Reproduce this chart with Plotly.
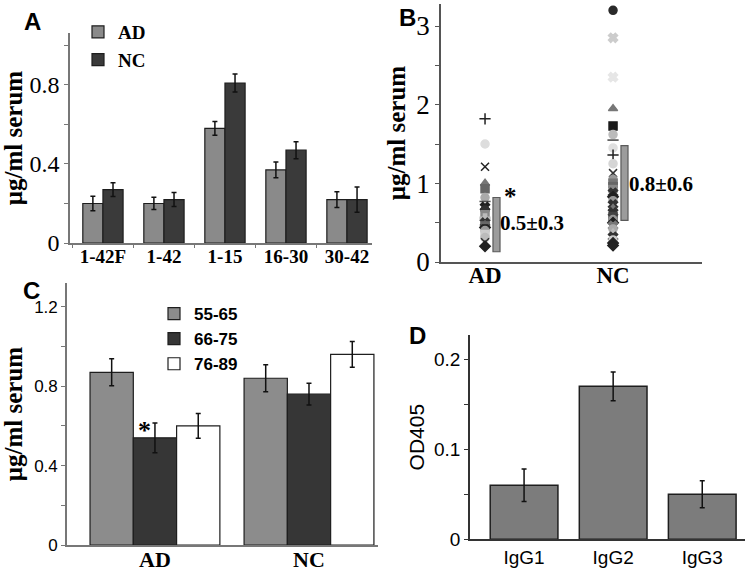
import plotly.graph_objects as go

W, H = 750, 574

# ---------------- Panel A data ----------------
a_categories = ["1-42F", "1-42", "1-15", "16-30", "30-42"]
a_ad = [0.20, 0.20, 0.58, 0.37, 0.22]
a_ad_err = [0.037, 0.031, 0.035, 0.040, 0.040]
a_nc = [0.27, 0.22, 0.81, 0.47, 0.22]
a_nc_err = [0.035, 0.035, 0.046, 0.043, 0.064]

# ---------------- Panel B data ----------------
b_groups = ["AD", "NC"]
b_ad_vals = [1.82, 1.50, 1.21, 1.00, 0.93, 0.82, 0.77, 0.70, 0.66, 0.60, 0.55, 0.50,
             0.47, 0.44, 0.40, 0.35, 0.31, 0.25, 0.20]
b_ad_sym = ["cross-thin", "circle", "x-thin", "triangle-up", "square", "circle", "line-ew",
            "x", "circle", "square", "cross", "x", "triangle-up", "diamond", "circle",
            "square", "circle", "x-thin", "diamond"]
b_ad_col = ["#222222", "#dddddd", "#222222", "#777777", "#666666", "#aaaaaa", "#555555",
            "#222222", "#333333", "#888888", "#bbbbbb", "#333333", "#666666", "#222222",
            "#999999", "#cccccc", "#bbbbbb", "#333333", "#222222"]
b_nc_vals = [3.20, 2.85, 2.35, 1.95, 1.73, 1.62, 1.55, 1.45, 1.36, 1.25, 1.13, 1.05,
             1.00, 0.94, 0.88, 0.83, 0.78, 0.73, 0.68, 0.63, 0.58, 0.54, 0.50, 0.46,
             0.42, 0.37, 0.32, 0.28, 0.24, 0.21]
b_nc_sym = ["circle", "x", "x", "triangle-up", "square", "circle", "line-ew", "circle",
            "cross-thin", "circle", "x-thin", "circle", "square", "square", "x", "diamond",
            "circle", "x", "triangle-up", "x", "square", "circle", "diamond", "x",
            "circle", "triangle-up", "x", "circle", "diamond", "diamond"]
b_nc_col = ["#2a2a2a", "#cccccc", "#e6e6e6", "#777777", "#1a1a1a", "#bbbbbb", "#444444",
            "#e0e0e0", "#222222", "#d5d5d5", "#333333", "#999999", "#777777", "#888888",
            "#333333", "#222222", "#999999", "#333333", "#777777", "#333333", "#444444",
            "#999999", "#222222", "#777777", "#aaaaaa", "#bbbbbb", "#333333", "#cccccc",
            "#222222", "#222222"]
b_box_low = [0.13, 0.53]
b_box_high = [0.82, 1.48]
b_box_mid = [0.50, 1.00]
b_box_text = ["0.5±0.3", "0.8±0.6"]

# ---------------- Panel C data ----------------
c_groups = ["AD", "NC"]
c_series = ["55-65", "66-75", "76-89"]
c_vals = [[0.87, 0.84], [0.54, 0.76], [0.60, 0.96]]
c_errs = [[0.068, 0.068], [0.075, 0.055], [0.062, 0.065]]

# ---------------- Panel D data ----------------
d_categories = ["IgG1", "IgG2", "IgG3"]
d_vals = [0.060, 0.170, 0.050]
d_errs = [0.018, 0.016, 0.015]

SERIF = "Liberation Serif"
SANS = "Liberation Sans"
LIGHT = "#8a8a8a"
DARK = "#3a3a3a"
EDGE = "#1e1e1e"

fig = go.Figure()


def err(arr):
    return dict(type="data", array=arr, color="#111111", thickness=1.5, width=2.5)


# Panel A bars
fig.add_trace(go.Bar(x=a_categories, y=a_ad, name="AD", error_y=err(a_ad_err),
                     marker=dict(color=LIGHT, line=dict(color=EDGE, width=1.2)),
                     width=0.33, offset=-0.33, xaxis="x", yaxis="y", legend="legend"))
fig.add_trace(go.Bar(x=a_categories, y=a_nc, name="NC", error_y=err(a_nc_err),
                     marker=dict(color=DARK, line=dict(color=EDGE, width=1.2)),
                     width=0.33, offset=0.0, xaxis="x", yaxis="y", legend="legend"))

# Panel B scatter
fig.add_trace(go.Scatter(x=["AD"] * len(b_ad_vals), y=b_ad_vals, mode="markers",
                         marker=dict(symbol=b_ad_sym, color=b_ad_col, size=8,
                                     line=dict(color=b_ad_col, width=1.5)),
                         xaxis="x2", yaxis="y2", showlegend=False))
fig.add_trace(go.Scatter(x=["NC"] * len(b_nc_vals), y=b_nc_vals, mode="markers",
                         marker=dict(symbol=b_nc_sym, color=b_nc_col, size=8,
                                     line=dict(color=b_nc_col, width=1.5)),
                         xaxis="x2", yaxis="y2", showlegend=False))
fig.add_trace(go.Bar(x=b_groups, y=[h - l for h, l in zip(b_box_high, b_box_low)],
                     base=b_box_low, width=0.055, offset=0.062,
                     marker=dict(color="#9c9c9c", line=dict(color="#5a5a5a", width=1.2)),
                     xaxis="x2", yaxis="y2", showlegend=False))

# Panel C bars
c_colors = ["#8c8c8c", "#363636", "#ffffff"]
c_width = 0.281
for i, (s, v, e) in enumerate(zip(c_series, c_vals, c_errs)):
    fig.add_trace(go.Bar(x=c_groups, y=v, name=s, error_y=err(e),
                         marker=dict(color=c_colors[i], line=dict(color=EDGE, width=1.2)),
                         width=c_width, offset=-1.5 * c_width + i * c_width,
                         xaxis="x3", yaxis="y3", legend="legend2"))

# Panel D bars
fig.add_trace(go.Bar(x=d_categories, y=d_vals, error_y=err(d_errs),
                     marker=dict(color="#7c7c7c", line=dict(color=EDGE, width=1.5)),
                     width=0.76, offset=-0.38, xaxis="x4", yaxis="y4", showlegend=False))

# Panel B medians
fig.add_trace(go.Scatter(x=b_groups, y=b_box_mid, mode="markers",
                         marker=dict(symbol="line-ew", size=7, color="#666666",
                                     line=dict(color="#666666", width=3)),
                         xaxis="x2", yaxis="y2", showlegend=False))


def yax(domain, rng, tickvals, ticktext, font, title, titlefont, color="#777777", standoff=4):
    return dict(domain=domain, range=rng, tickvals=tickvals, ticktext=ticktext,
                tickfont=font, showgrid=False, zeroline=False, showline=True,
                linecolor=color, linewidth=1.6, ticks="outside", ticklen=4,
                tickcolor=color,
                title=dict(text=title, font=titlefont, standoff=standoff))


def xax(domain, rng, font, color="#777777"):
    return dict(domain=domain, range=rng, tickfont=font, showgrid=False, zeroline=False,
                showline=True, linecolor=color, linewidth=1.6, ticks="", type="category")


ytitle_font = dict(family=SERIF, size=25, color="black", weight="bold")

layout = dict(
    width=W, height=H, margin=dict(l=0, r=0, t=0, b=0, autoexpand=False),
    paper_bgcolor="white", plot_bgcolor="white", barmode="overlay",
    xaxis=dict(xax([70 / W, 372 / W], [-0.54, 4.41],
                   dict(family=SERIF, size=19, color="black", weight="bold")),
               anchor="y", ticks="outside", tickson="boundaries", ticklen=3,
               tickcolor="#777777", ticklabelstandoff=-5),
    yaxis=dict(yax([1 - 243 / H, 1 - 33 / H], [0, 1.063], [0, 0.2, 0.4, 0.6, 0.8, 1.0],
                   ["0", "", "0.4", "", "0.8", ""],
                   dict(family=SERIF, size=24, color="black"), "μg/ml serum", ytitle_font),
               anchor="x"),
    xaxis2=dict(xax([441 / W, 702 / W], [-0.344, 1.695],
                    dict(family=SERIF, size=23, color="black", weight="bold"), color="#555555"),
                anchor="y2", ticklabelstandoff=-8),
    yaxis2=dict(yax([1 - 262 / H, 1 - 4 / H], [0, 3.28], [0, 0.5, 1, 1.5, 2, 2.5, 3],
                    ["0", "", "1", "", "2", "", "3"],
                    dict(family=SERIF, size=27, color="black"), "μg/ml serum", ytitle_font,
                    color="#555555"),
                anchor="x2"),
    xaxis3=dict(xax([67 / W, 378 / W], [-0.571, 1.448],
                    dict(family=SERIF, size=22, color="black", weight="bold")),
                anchor="y3", ticklabelstandoff=-6),
    yaxis3=dict(yax([1 - 545 / H, 1 - 283 / H], [0, 1.32],
                    [0, 0.2, 0.4, 0.6, 0.8, 1.0, 1.2], ["0", "", "0.4", "", "0.8", "", "1.2"],
                    dict(family=SANS, size=17, color="black"), "μg/ml serum", ytitle_font),
                anchor="x3"),
    xaxis4=dict(xax([470 / W, 745 / W], [-0.607, 2.48],
                    dict(family=SANS, size=19, color="black"), color="#333333"),
                anchor="y4"),
    yaxis4=dict(yax([1 - 539.3 / H, 1 - 335 / H], [0, 0.227],
                    [0, 0.05, 0.1, 0.15, 0.2], ["0", "", "0.1", "", "0.2"],
                    dict(family=SANS, size=19, color="black"), "OD405",
                    dict(family=SANS, size=21, color="black"), color="#333333"),
                anchor="x4"),
    legend=dict(x=78 / W, y=1 - 13 / H, xanchor="left", yanchor="top",
                bgcolor="rgba(0,0,0,0)", tracegroupgap=0, itemwidth=30,
                font=dict(family=SERIF, size=19, color="black", weight="bold")),
    legend2=dict(x=154 / W, y=1 - 296 / H, xanchor="left", yanchor="top",
                 bgcolor="rgba(0,0,0,0)", tracegroupgap=0, itemwidth=30,
                 font=dict(family=SANS, size=17, color="black", weight="bold")),
)
fig.update_layout(**layout)

# Panel letters
for txt, px, py in [("A", 32, 21), ("B", 407, 18), ("C", 31, 290), ("D", 417, 335)]:
    fig.add_annotation(text=txt, x=px / W, y=1 - py / H, xref="paper", yref="paper",
                       showarrow=False, xanchor="center", yanchor="middle",
                       font=dict(family=SANS, size=24, color="black", weight="bold"))

# Panel B annotations
ann_font = dict(family=SERIF, size=21, color="black", weight="bold")
fig.add_annotation(text=b_box_text[0], x=0.1, y=b_box_mid[0], xref="x2", yref="y2",
                   showarrow=False, xanchor="left", yanchor="middle", font=ann_font)
fig.add_annotation(text=b_box_text[1], x=1.11, y=0.99, xref="x2", yref="y2",
                   showarrow=False, xanchor="left", yanchor="middle", font=ann_font)
fig.add_annotation(text="*", x=0.13, y=0.83, xref="x2", yref="y2", showarrow=False,
                   xanchor="left", yanchor="middle",
                   font=dict(family=SERIF, size=25, color="black", weight="bold"))
# Panel C significance star
fig.add_annotation(text="*", x=-0.07, y=0.575, xref="x3", yref="y3", showarrow=False,
                   xanchor="center", yanchor="middle",
                   font=dict(family=SERIF, size=26, color="black", weight="bold"))

fig.write_html("out.html", config={"displayModeBar": False},
               post_script="document.body.style.margin='0';")
